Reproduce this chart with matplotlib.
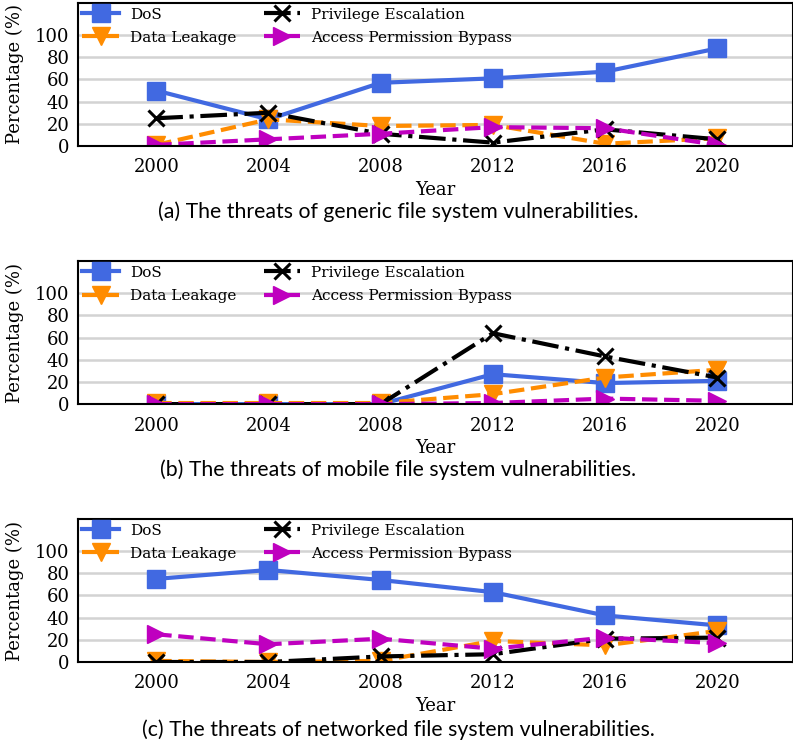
import matplotlib
matplotlib.use("Agg")
import matplotlib.pyplot as plt

years = [2000, 2004, 2008, 2012, 2016, 2020]

# (a) generic file systems
generic_dos = [50, 24, 57, 61, 67, 88]
generic_leak = [1, 24, 18, 19, 2, 7]
generic_priv = [25, 30, 11, 3, 15, 6]
generic_access = [1, 6, 11, 17, 16, 1]

# (b) mobile file systems
mobile_dos = [0, 0, 0, 27, 19, 21]
mobile_leak = [1, 1, 1, 9, 24, 31]
mobile_priv = [0, 0, 0, 64, 43, 24]
mobile_access = [0, 0, 0, 1, 5, 3]

# (c) networked file systems
net_dos = [75, 83, 74, 63, 42, 33]
net_leak = [1, 0, 1, 19, 15, 28]
net_priv = [0, 0, 5, 7, 21, 22]
net_access = [25, 16, 21, 12, 22, 17]

captions = [
    "(a) The threats of generic file system vulnerabilities.",
    "(b) The threats of mobile file system vulnerabilities.",
    "(c) The threats of networked file system vulnerabilities.",
]

panels = [
    (generic_dos, generic_leak, generic_priv, generic_access),
    (mobile_dos, mobile_leak, mobile_priv, mobile_access),
    (net_dos, net_leak, net_priv, net_access),
]

plt.rcParams["font.family"] = "DejaVu Serif"

fig = plt.figure(figsize=(7.93, 7.47), dpi=100)
bottoms = [0.8046, 0.459, 0.1138]
cap_y = [0.716, 0.371, 0.023]

for k in range(3):
    dos, leak, priv, acc = panels[k]
    ax = fig.add_axes([0.098, bottoms[k], 0.902, 0.1914])
    ax.plot(years, dos, color="royalblue", linestyle="-", marker="s",
            markersize=13, linewidth=3, label="DoS")
    ax.plot(years, leak, color="darkorange", linestyle="--", marker="v",
            markersize=13, linewidth=3, label="Data Leakage")
    ax.plot(years, priv, color="black", linestyle="-.", marker="x",
            markersize=11, markeredgewidth=2.2, linewidth=3, label="Privilege Escalation")
    ax.plot(years, acc, color="m", linestyle="--", marker=">",
            markersize=13, linewidth=3, label="Access Permission Bypass")

    ax.set_xlim(1997.2, 2022.7)
    ax.set_ylim(0, 129)
    ax.set_xticks(years)
    ax.set_yticks([0, 20, 40, 60, 80, 100])
    ax.tick_params(axis="x", length=0, labelsize=13, pad=9)
    ax.tick_params(axis="y", length=0, labelsize=13, pad=6)
    ax.yaxis.grid(True, color="lightgray", linewidth=1.8)
    ax.set_axisbelow(True)
    for s in ax.spines.values():
        s.set_linewidth(1.5)
    ax.set_ylabel("Percentage (%)", fontsize=13, labelpad=8)
    ax.set_xlabel("Year", fontsize=13, labelpad=3)

    ax.legend(loc="upper left", ncol=2, frameon=False, fontsize=11,
              handlelength=2.4, handletextpad=0.7, borderaxespad=0.1,
              labelspacing=0.6, columnspacing=1.8, borderpad=0.2)

    fig.text(0.502, cap_y[k], captions[k], ha="center", va="center",
             fontsize=15.3, family=["Lato", "DejaVu Sans"])

fig.savefig("out.png", dpi=100)
